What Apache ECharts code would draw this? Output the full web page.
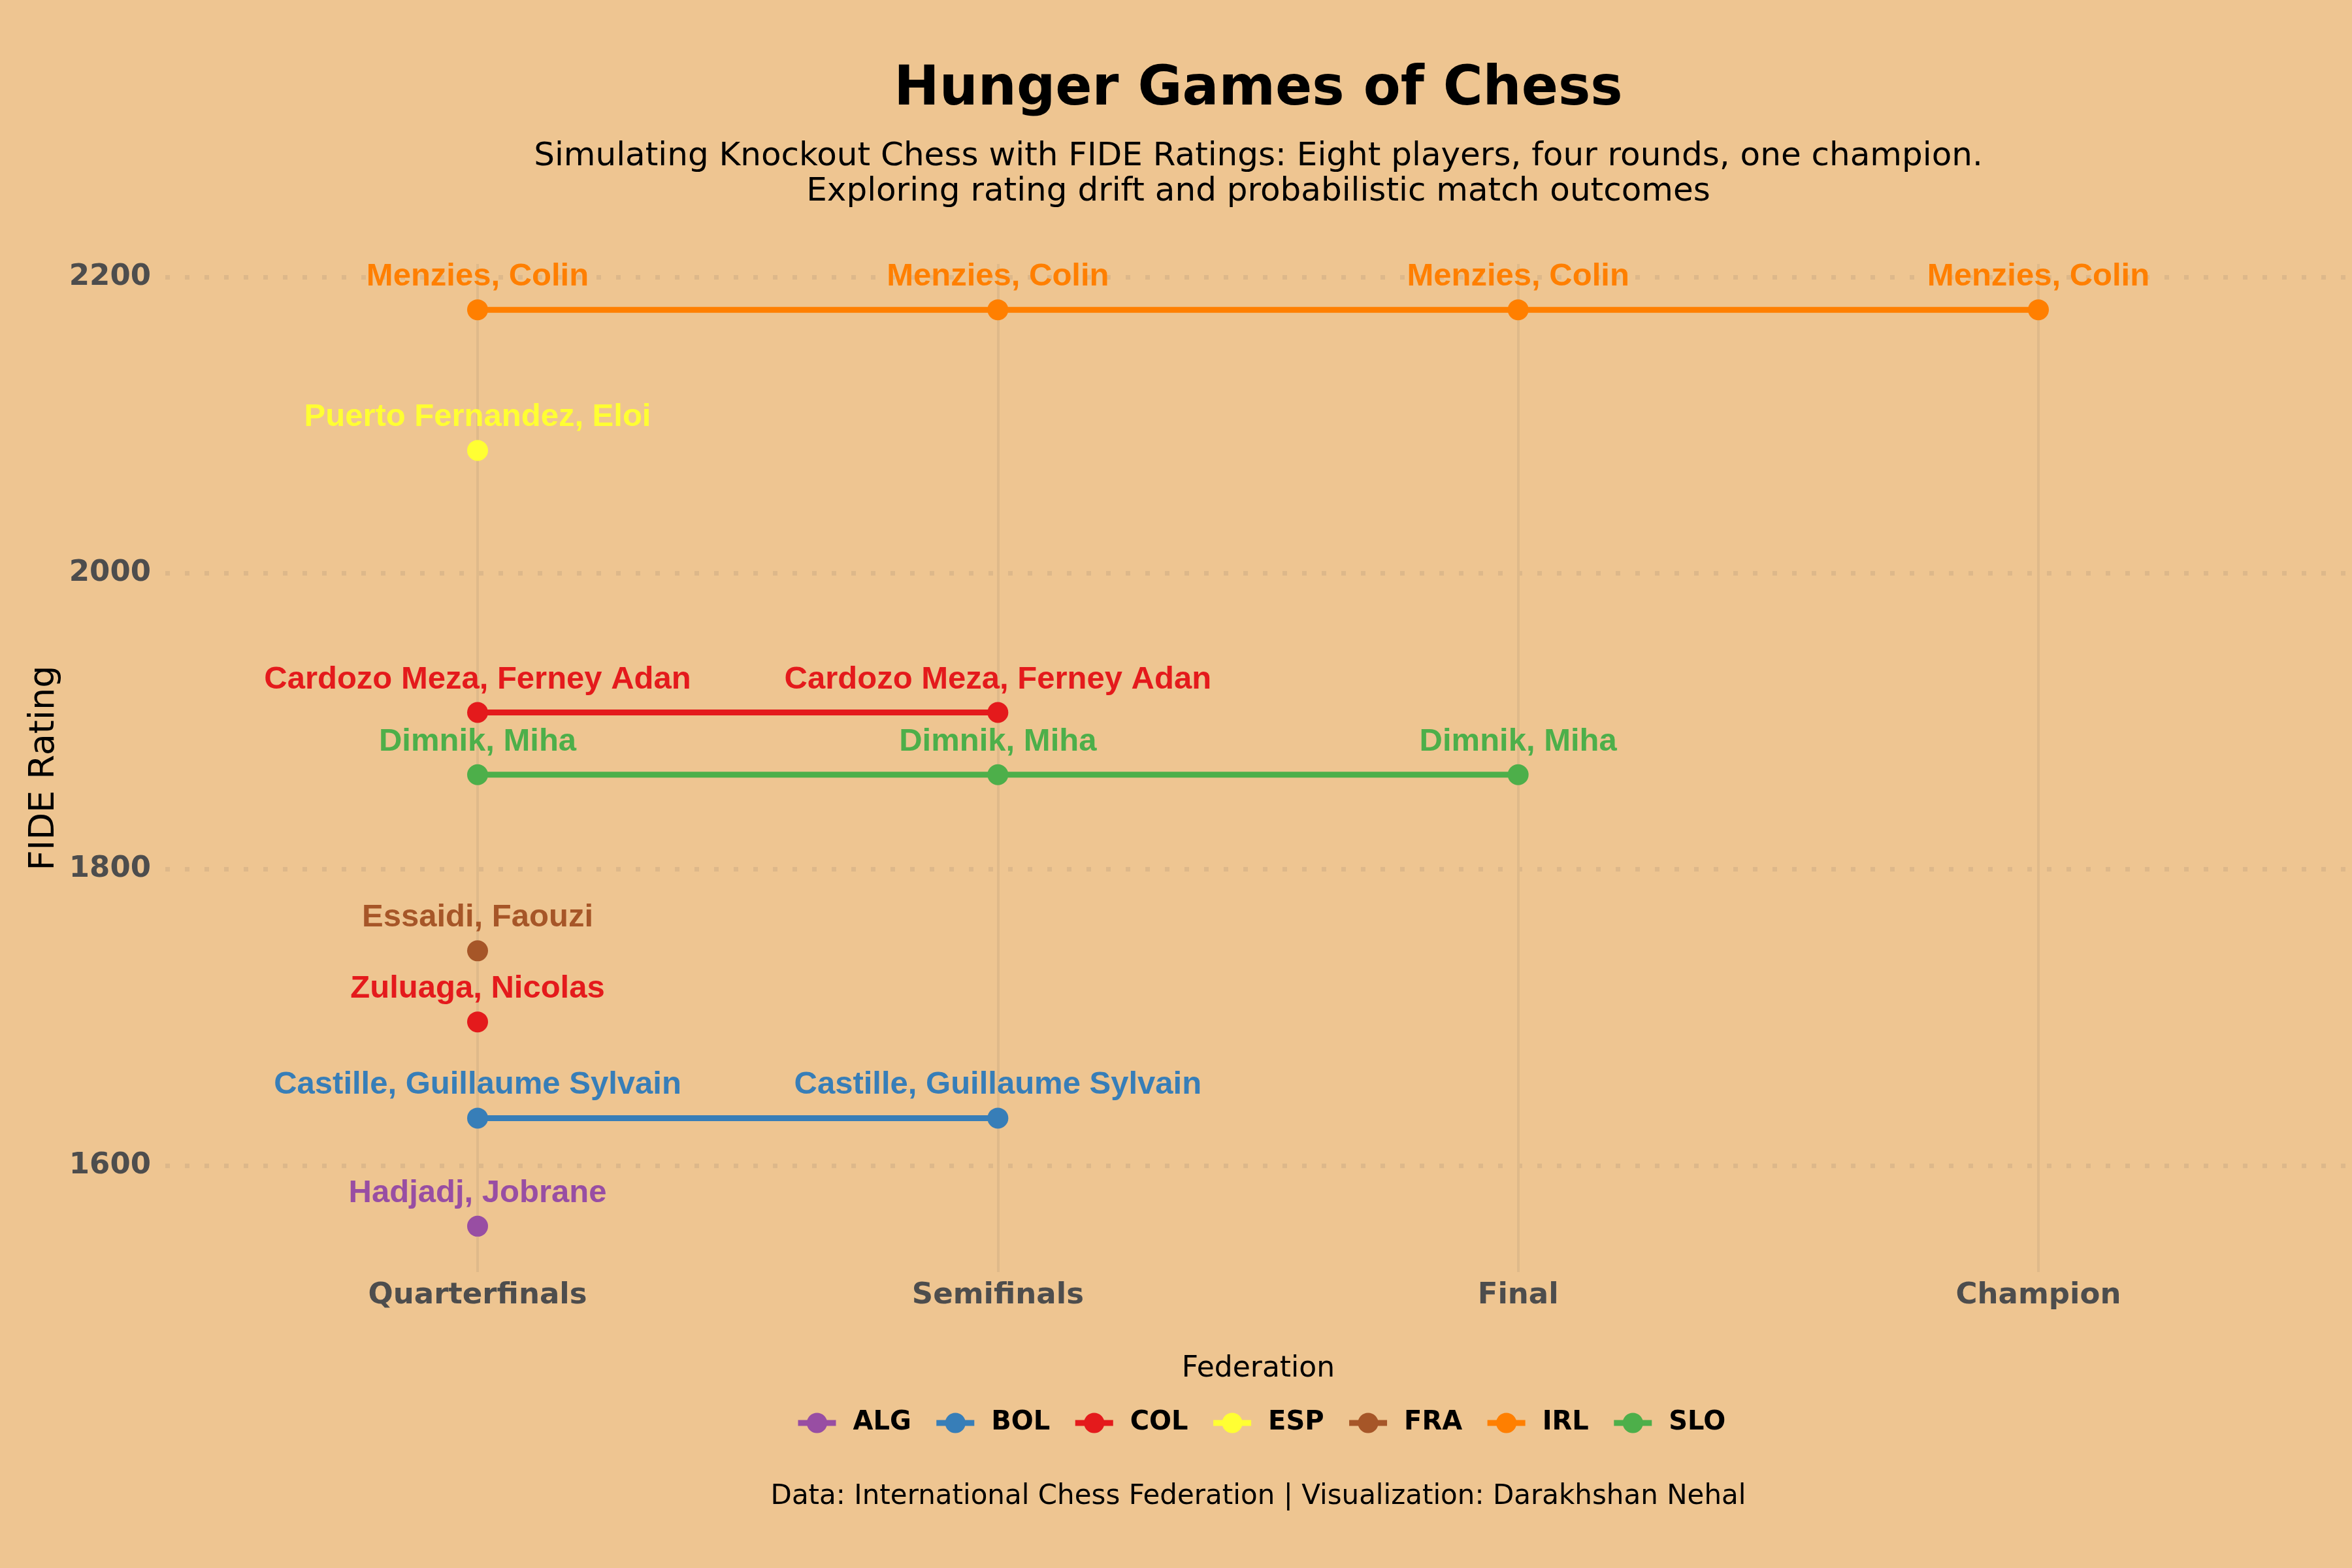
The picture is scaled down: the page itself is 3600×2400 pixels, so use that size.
<!DOCTYPE html>
<html>
<head>
<meta charset="utf-8">
<script src="https://cdn.jsdelivr.net/npm/echarts@6/dist/echarts.min.js"></script>
<style>
html,body{margin:0;padding:0;background:#EEC591;}
#chart{width:3600px;height:2400px;}
</style>
</head>
<body>
<div id="chart"></div>
<script>
// ---------------- data ----------------
const rounds = ['Quarterfinals', 'Semifinals', 'Final', 'Champion'];
const players = [
  'Hadjadj, Jobrane',
  'Castille, Guillaume Sylvain',
  'Cardozo Meza, Ferney Adan',
  'Zuluaga, Nicolas',
  'Puerto Fernandez, Eloi',
  'Essaidi, Faouzi',
  'Menzies, Colin',
  'Dimnik, Miha'
];
const federations = ['ALG', 'BOL', 'COL', 'COL', 'ESP', 'FRA', 'IRL', 'SLO'];
const ratings = [1559, 1632, 1906, 1697, 2083, 1745, 2178, 1864];
const roundsReached = [1, 2, 2, 1, 1, 1, 4, 3];
const federationOrder = ['ALG', 'BOL', 'COL', 'ESP', 'FRA', 'IRL', 'SLO'];
const yTicks = [1600, 1800, 2000, 2200];

// ---------------- styles ----------------
const fedColors = {
  ALG: '#984EA3', BOL: '#377EB8', COL: '#E41A1C', ESP: '#FFFF33',
  FRA: '#A65628', IRL: '#FF7F00', SLO: '#4DAF4A'
};
const BG = '#EEC591';
const SANS = 'DejaVu Sans';
const LABEL_FONT = 'Liberation Sans';

const lo = Math.min(...ratings), hi = Math.max(...ratings);
const pad = (hi - lo) * 0.05;
const yMin = lo - pad, yMax = hi + pad;

const GRID_TOP = 404, GRID_BOTTOM = 453;
const CX = 1926;

const series = players.map((p, i) => ({
  type: 'line',
  name: federations[i],
  xAxisIndex: 1,
  yAxisIndex: 1,
  data: rounds.slice(0, roundsReached[i]).map(r => [r, ratings[i]]),
  symbol: 'circle',
  symbolSize: 32,
  showSymbol: true,
  clip: false,
  lineStyle: { width: 9, color: fedColors[federations[i]] },
  itemStyle: { color: fedColors[federations[i]] },
  label: {
    show: true,
    position: 'top',
    distance: 10,
    formatter: () => p,
    color: fedColors[federations[i]],
    fontFamily: LABEL_FONT,
    fontWeight: 'bold',
    fontSize: 49
  },
  emphasis: { disabled: true },
  animation: false
}));

const chart = echarts.init(document.getElementById('chart'), null, { renderer: 'canvas' });
chart.setOption({
  backgroundColor: BG,
  animation: false,
  grid: [
    { left: 253, right: 2, top: GRID_TOP, bottom: GRID_BOTTOM, containLabel: false },
    { left: 731, right: 480, top: GRID_TOP, bottom: GRID_BOTTOM, containLabel: false }
  ],
  xAxis: [
    { gridIndex: 0, type: 'value', min: 0, max: 1, show: false },
    {
      gridIndex: 1, type: 'category', data: rounds, boundaryGap: false,
      axisLine: { show: false }, axisTick: { show: false },
      axisLabel: { color: '#4D4D4D', fontFamily: SANS, fontWeight: 'bold', fontSize: 45, margin: 14 },
      splitLine: { show: true, lineStyle: { color: '#DFBA8A', width: 4 } }
    }
  ],
  yAxis: [
    {
      gridIndex: 0, type: 'value', min: yMin, max: yMax,
      name: 'FIDE Rating', nameLocation: 'middle', nameRotate: 90, nameGap: 146,
      nameTextStyle: { color: '#000', fontFamily: SANS, fontSize: 54 },
      axisLine: { show: false },
      axisTick: { show: false, customValues: yTicks },
      axisLabel: {
        customValues: yTicks, formatter: v => String(v),
        color: '#4D4D4D', fontFamily: SANS, fontWeight: 'bold', fontSize: 45, margin: 22
      },
      splitLine: { show: true, lineStyle: { color: '#DDB88A', width: 7, type: [7, 23], cap: 'butt' } }
    },
    { gridIndex: 1, type: 'value', min: yMin, max: yMax, show: false, splitLine: { show: false } }
  ],
  legend: {
    data: federationOrder,
    left: 1217, top: 2158,
    orient: 'horizontal',
    padding: 0,
    itemWidth: 58, itemHeight: 39, itemGap: 34,
    selectedMode: false,
    lineStyle: { width: 9 },
    textStyle: { color: '#000', fontFamily: SANS, fontWeight: 'bold', fontSize: 40, padding: [0, 0, 0, 21] }
  },
  graphic: [
    { type: 'text', x: CX, y: 138, style: { text: 'Hunger Games of Chess', fill: '#000', font: 'bold 83px "DejaVu Sans"', textAlign: 'center', textVerticalAlign: 'middle' } },
    { type: 'text', x: CX, y: 240, style: { text: 'Simulating Knockout Chess with FIDE Ratings: Eight players, four rounds, one champion.', fill: '#000', font: '50px "DejaVu Sans"', textAlign: 'center', textVerticalAlign: 'middle' } },
    { type: 'text', x: CX, y: 294, style: { text: 'Exploring rating drift and probabilistic match outcomes', fill: '#000', font: '50px "DejaVu Sans"', textAlign: 'center', textVerticalAlign: 'middle' } },
    { type: 'text', x: CX, y: 2096, style: { text: 'Federation', fill: '#000', font: '44px "DejaVu Sans"', textAlign: 'center', textVerticalAlign: 'middle' } },
    { type: 'text', x: CX, y: 2291, style: { text: 'Data: International Chess Federation | Visualization: Darakhshan Nehal', fill: '#000', font: '42px "DejaVu Sans"', textAlign: 'center', textVerticalAlign: 'middle' } }
  ],
  series: series
});
</script>
</body>
</html>
